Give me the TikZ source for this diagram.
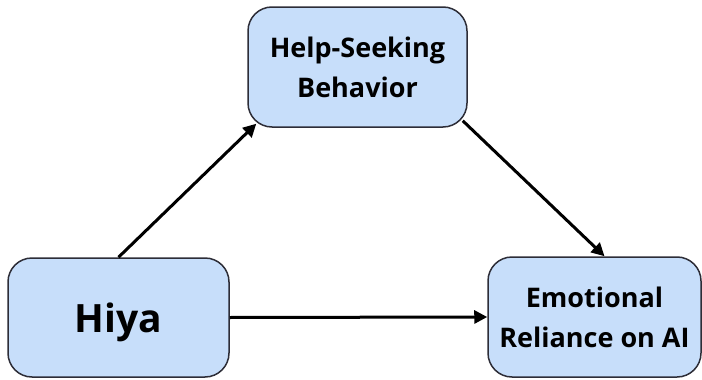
\documentclass[tikz,border=0pt]{standalone}
\usepackage{fontspec}
\setmainfont{Open Sans}
\usetikzlibrary{arrows.meta,positioning,calc}

\definecolor{boxblue}{RGB}{199,222,250}
\definecolor{boxline}{RGB}{45,45,55}

\tikzset{
  varbox/.style={draw=boxline,line width=1.5pt,fill=boxblue,rounded corners=24pt,
    align=center,font=\bfseries\fontsize{27}{40}\selectfont,inner sep=0pt},
  link/.style={line width=3pt,-{Triangle[length=13pt,width=13pt]}}
}

\begin{document}
\begin{tikzpicture}[x=1pt,y=-1pt]
  \useasboundingbox (0,0) rectangle (702,380);
  % the three variables
  \node[varbox,minimum width=219pt,minimum height=120pt] (help) at (357.5,67) {Help-Seeking\\Behavior};
  \node[varbox,minimum width=221pt,minimum height=119pt,text depth=0pt,
        font=\bfseries\fontsize{39}{40}\selectfont] (hiya) at (118.5,317.5) {Hiya};
  \node[varbox,minimum width=213pt,minimum height=120pt] (emo) at (594.5,317) {Emotional\\Reliance on AI};
  % links
  \draw[link] (hiya.north) -- ([xshift=9pt,yshift=4pt]help.south west);
  \draw[link] ([xshift=-5pt,yshift=7pt]help.south east) -- ([xshift=10pt]emo.north);
  \draw[link] (hiya.east) -- (emo.west);
\end{tikzpicture}
\end{document}
